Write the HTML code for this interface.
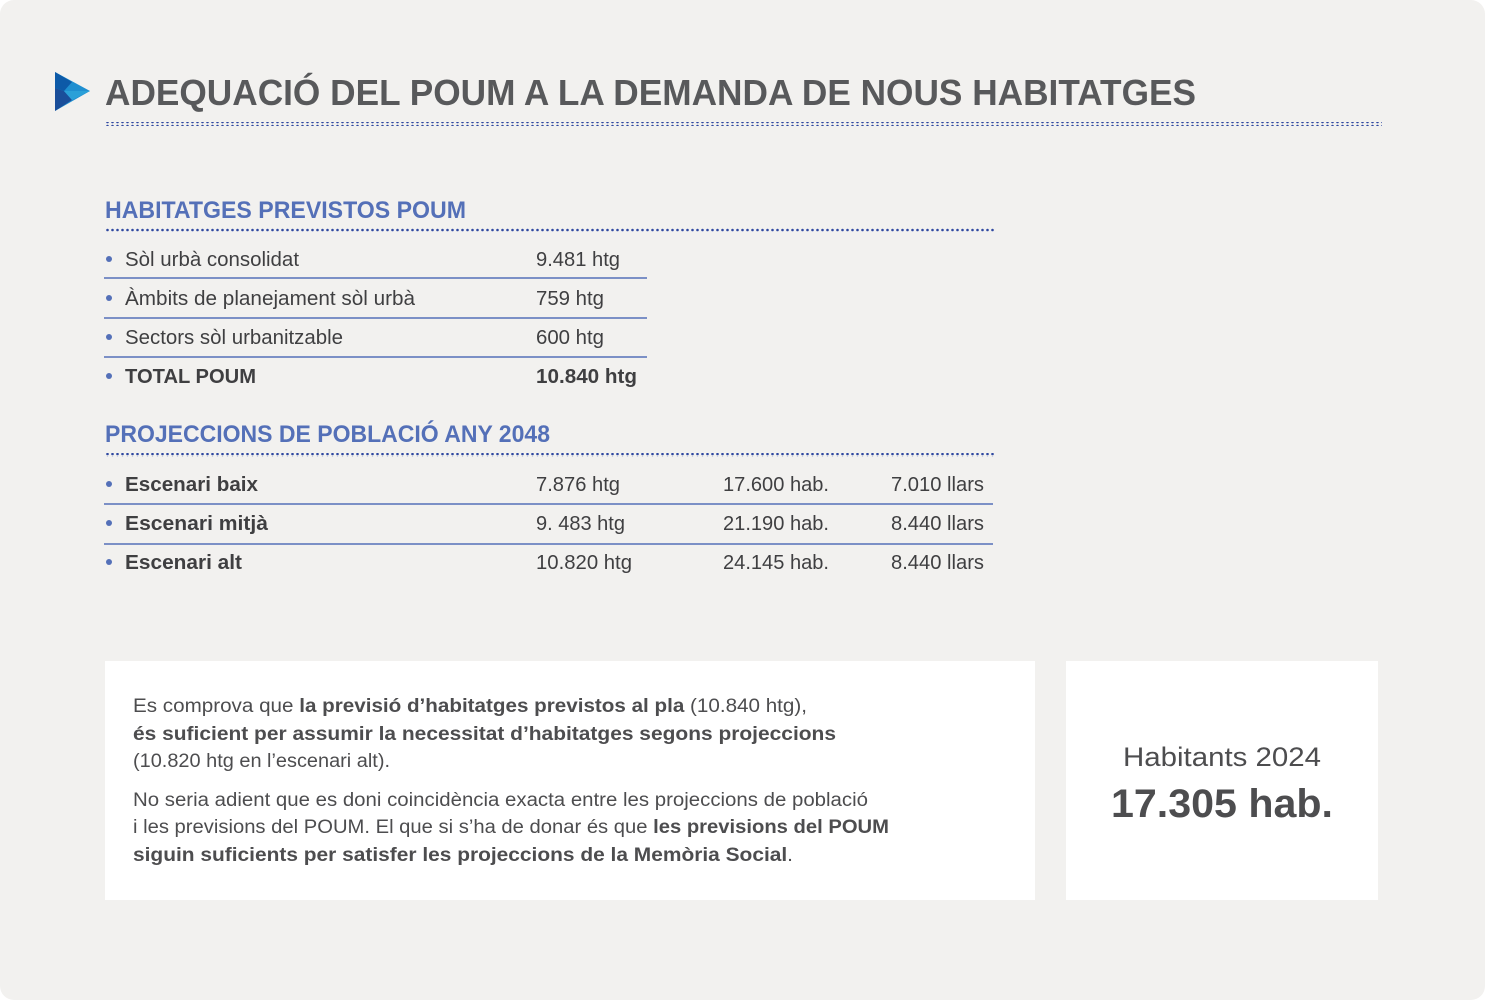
<!DOCTYPE html>
<html><head><meta charset="utf-8"><style>
html,body{margin:0;padding:0;background:#fff;}
svg{display:block;font-family:"Liberation Sans","DejaVu Sans",sans-serif;}
</style></head><body>
<svg width="1485" height="1000" viewBox="0 0 1485 1000">
<defs>
<pattern id="dots" x="0" y="0" width="5" height="4" patternUnits="userSpaceOnUse"><circle cx="2.5" cy="2" r="1.3" fill="#2f48a0"/></pattern>
</defs>
<rect x="0" y="0" width="1485" height="1000" rx="14" fill="#f2f1ef"/>
<g>
<polygon points="55,72 90,91 55,111" fill="#1f8fd0"/>
<polygon points="55,72 72,82 64,91 55,88" fill="#0d5aa8"/>
<polygon points="55,88 64,91 72,100 55,111" fill="#1a4e9a"/>
<polygon points="64,91 90,91 72,100" fill="#2aa0d8"/>
</g>
<text x="105" y="105" font-size="36" font-weight="bold" fill="#58595b" textLength="1091" lengthAdjust="spacingAndGlyphs">ADEQUACIÓ DEL POUM A LA DEMANDA DE NOUS HABITATGES</text>
<rect x="104" y="122" width="1278" height="4" fill="url(#dots)"/>

<text x="105" y="218" font-size="24" font-weight="bold" fill="#5470b8" textLength="361" lengthAdjust="spacingAndGlyphs">HABITATGES PREVISTOS POUM</text>
<rect x="104" y="228" width="890" height="4" fill="url(#dots)"/>
<g font-size="20" fill="#3f3f41">
<g fill="#5470b8"><circle cx="109" cy="259" r="3"/><circle cx="109" cy="298" r="3"/><circle cx="109" cy="337" r="3"/><circle cx="109" cy="376" r="3"/></g>
<text x="125" y="266" textLength="174" lengthAdjust="spacingAndGlyphs">Sòl urbà consolidat</text>
<text x="536" y="266" textLength="84" lengthAdjust="spacingAndGlyphs">9.481 htg</text>
<text x="125" y="305" textLength="290" lengthAdjust="spacingAndGlyphs">Àmbits de planejament sòl urbà</text>
<text x="536" y="305" textLength="68" lengthAdjust="spacingAndGlyphs">759 htg</text>
<text x="125" y="344" textLength="218" lengthAdjust="spacingAndGlyphs">Sectors sòl urbanitzable</text>
<text x="536" y="344" textLength="68" lengthAdjust="spacingAndGlyphs">600 htg</text>
<text x="125" y="383" font-weight="bold" textLength="131" lengthAdjust="spacingAndGlyphs">TOTAL POUM</text>
<text x="536" y="383" font-weight="bold" textLength="101" lengthAdjust="spacingAndGlyphs">10.840 htg</text>
<g stroke="#5470b8" stroke-width="1.5"><line x1="104" y1="278" x2="647" y2="278"/><line x1="104" y1="318" x2="647" y2="318"/><line x1="104" y1="357" x2="647" y2="357"/></g>
</g>

<text x="105" y="442" font-size="24" font-weight="bold" fill="#5470b8" textLength="445" lengthAdjust="spacingAndGlyphs">PROJECCIONS DE POBLACIÓ ANY 2048</text>
<rect x="104" y="453" width="890" height="4" fill="url(#dots)"/>
<g font-size="20" fill="#3f3f41">
<g fill="#5470b8"><circle cx="109" cy="484" r="3"/><circle cx="109" cy="523" r="3"/><circle cx="109" cy="562" r="3"/></g>
<text x="125" y="491" font-weight="bold" textLength="133" lengthAdjust="spacingAndGlyphs">Escenari baix</text>
<text x="536" y="491" textLength="84" lengthAdjust="spacingAndGlyphs">7.876 htg</text>
<text x="723" y="491" textLength="106" lengthAdjust="spacingAndGlyphs">17.600 hab.</text>
<text x="891" y="491" textLength="93" lengthAdjust="spacingAndGlyphs">7.010 llars</text>
<text x="125" y="530" font-weight="bold" textLength="143" lengthAdjust="spacingAndGlyphs">Escenari mitjà</text>
<text x="536" y="530" textLength="89" lengthAdjust="spacingAndGlyphs">9. 483 htg</text>
<text x="723" y="530" textLength="106" lengthAdjust="spacingAndGlyphs">21.190 hab.</text>
<text x="891" y="530" textLength="93" lengthAdjust="spacingAndGlyphs">8.440 llars</text>
<text x="125" y="569" font-weight="bold" textLength="117" lengthAdjust="spacingAndGlyphs">Escenari alt</text>
<text x="536" y="569" textLength="96" lengthAdjust="spacingAndGlyphs">10.820 htg</text>
<text x="723" y="569" textLength="106" lengthAdjust="spacingAndGlyphs">24.145 hab.</text>
<text x="891" y="569" textLength="93" lengthAdjust="spacingAndGlyphs">8.440 llars</text>
<g stroke="#5470b8" stroke-width="1.5"><line x1="104" y1="504" x2="993" y2="504"/><line x1="104" y1="544" x2="993" y2="544"/></g>
</g>

<rect x="105" y="661" width="930" height="239" fill="#ffffff"/>
<g font-size="19" fill="#4d4d4f">
<text x="133" y="712" textLength="674" lengthAdjust="spacingAndGlyphs">Es comprova que <tspan font-weight="bold">la previsió d’habitatges previstos al pla</tspan> (10.840 htg),</text>
<text x="133" y="740" font-weight="bold" textLength="703" lengthAdjust="spacingAndGlyphs">és suficient per assumir la necessitat d’habitatges segons projeccions</text>
<text x="133" y="767" textLength="257" lengthAdjust="spacingAndGlyphs">(10.820 htg en l’escenari alt).</text>
<text x="133" y="806" textLength="735" lengthAdjust="spacingAndGlyphs">No seria adient que es doni coincidència exacta entre les projeccions de població</text>
<text x="133" y="833" textLength="756" lengthAdjust="spacingAndGlyphs">i les previsions del POUM. El que si s’ha de donar és que <tspan font-weight="bold">les previsions del POUM</tspan></text>
<text x="133" y="861" textLength="660" lengthAdjust="spacingAndGlyphs"><tspan font-weight="bold">siguin suficients per satisfer les projeccions de la Memòria Social</tspan>.</text>
</g>

<rect x="1066" y="661" width="312" height="239" fill="#ffffff"/>
<text x="1222" y="766" font-size="27" fill="#4d4d4f" text-anchor="middle" textLength="198" lengthAdjust="spacingAndGlyphs">Habitants 2024</text>
<text x="1222" y="817" font-size="40" font-weight="bold" fill="#4d4d4f" text-anchor="middle" textLength="222" lengthAdjust="spacingAndGlyphs">17.305 hab.</text>
</svg>
</body></html>
